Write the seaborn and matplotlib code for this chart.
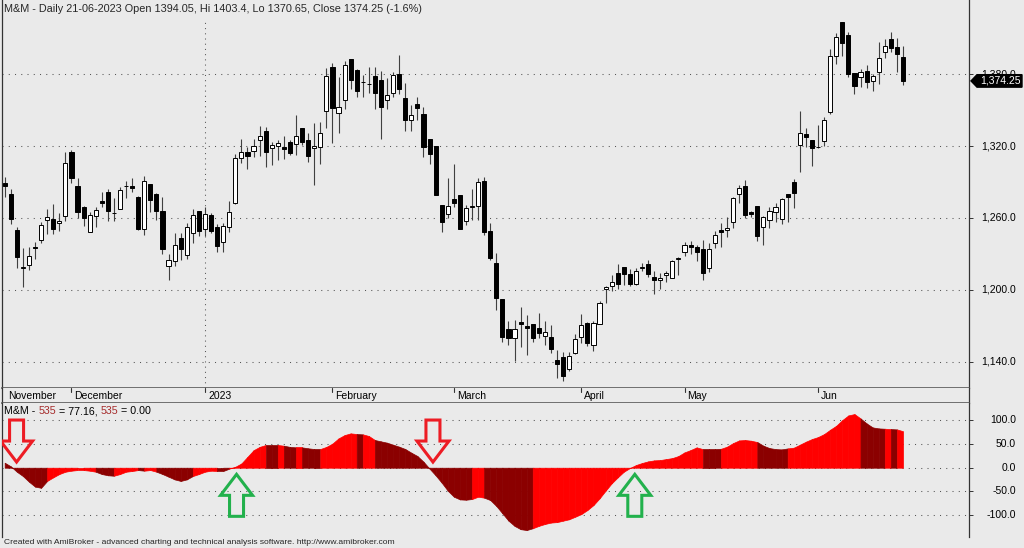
import numpy as np
import pandas as pd
import matplotlib
matplotlib.use("Agg")
import matplotlib.pyplot as plt
import seaborn as sns
from matplotlib import transforms as mtransforms
from matplotlib.patches import Polygon

W, H = 1024, 548
BG = '#EAEAEA'
RED = '#FF0000'
DARK = '#8B0000'

sns.set_theme(style='white', rc={
    'figure.facecolor': BG,
    'axes.facecolor': BG,
    'savefig.facecolor': BG,
    'axes.edgecolor': '#333333',
})
plt.rcParams['font.family'] = ['Liberation Sans', 'DejaVu Sans']

#%% data
nse_holidays = ['2023-01-26', '2023-03-07', '2023-03-30', '2023-04-04',
                '2023-04-07', '2023-04-14', '2023-05-01']

opens = [1289.2, 1280.0, 1250.0, 1218.4, 1220.6, 1235.6, 1241.7, 1258.3, 1259.4, 1255.6,
         1261.7, 1314.7, 1286.9, 1269.4, 1248.1, 1261.7, 1273.9, 1281.7, 1264.5, 1267.8,
         1286.6, 1286.7, 1277.8, 1250.6, 1288.3, 1280.0, 1265.6, 1219.7, 1224.4, 1243.3,
         1229.4, 1247.5, 1265.8, 1250.6, 1262.5, 1252.5, 1240.0, 1252.8, 1272.8, 1309.7,
         1315.3, 1315.8, 1324.7, 1332.8, 1318.6, 1320.0, 1319.2, 1323.6, 1321.4, 1334.7,
         1325.3, 1318.0, 1319.4, 1349.4, 1386.1, 1347.2, 1358.3, 1392.2, 1383.3, 1373.5,
         1371.5, 1378.6, 1375.0, 1358.0, 1363.9, 1380.0, 1359.7, 1341.4, 1354.7, 1347.0,
         1325.5, 1320.0, 1270.5, 1263.3, 1276.1, 1278.9, 1257.8, 1269.2, 1270.3, 1291.1,
         1249.2, 1222.8, 1192.2, 1167.2, 1160.3, 1173.3, 1170.3, 1171.4, 1168.0, 1161.4,
         1160.5, 1141.7, 1144.2, 1134.2, 1147.2, 1161.1, 1172.8, 1154.4, 1171.7, 1200.5,
         1203.3, 1213.9, 1218.9, 1213.0, 1205.0, 1218.5, 1221.7, 1211.1, 1208.3, 1212.5,
         1210.3, 1225.5, 1232.0, 1237.5, 1236.0, 1234.0, 1218.0, 1238.9, 1250.0, 1250.0,
         1256.4, 1280.3, 1286.9, 1265.0, 1270.3, 1252.8, 1258.3, 1265.3, 1259.2, 1280.0,
         1290.3, 1320.8, 1330.0, 1325.0, 1319.5, 1324.2, 1348.6, 1395.0, 1423.0, 1412.5,
         1380.8, 1377.5, 1382.8, 1373.9, 1381.4, 1398.6, 1409.2, 1402.2, 1394.05]

highs = [1294.4, 1284.4, 1252.8, 1234.7, 1235.6, 1239.7, 1256.7, 1267.5, 1271.4, 1264.4,
         1315.3, 1316.7, 1293.1, 1270.0, 1264.7, 1268.9, 1281.7, 1283.9, 1276.4, 1285.6,
         1290.8, 1293.1, 1278.0, 1295.0, 1288.5, 1280.5, 1277.2, 1230.0, 1247.2, 1247.8,
         1255.6, 1267.2, 1266.0, 1269.4, 1264.4, 1254.7, 1255.6, 1273.9, 1313.3, 1325.8,
         1318.9, 1325.8, 1336.7, 1335.5, 1323.0, 1325.0, 1328.3, 1325.0, 1345.6, 1334.8,
         1331.1, 1338.9, 1340.3, 1384.7, 1388.9, 1377.2, 1391.1, 1392.3, 1384.2, 1379.2,
         1385.5, 1386.1, 1382.8, 1376.4, 1382.0, 1395.8, 1372.2, 1354.2, 1361.1, 1352.8,
         1325.6, 1320.2, 1271.0, 1293.3, 1305.0, 1279.0, 1270.5, 1283.9, 1293.0, 1294.4,
         1255.5, 1230.5, 1192.5, 1174.2, 1175.0, 1186.1, 1178.9, 1171.5, 1180.5, 1174.2,
         1170.5, 1150.0, 1148.6, 1148.6, 1163.3, 1179.7, 1173.0, 1174.2, 1190.5, 1203.6,
         1212.5, 1221.4, 1219.0, 1217.2, 1218.0, 1222.2, 1225.0, 1216.1, 1213.9, 1216.1,
         1225.0, 1227.8, 1240.0, 1241.0, 1237.5, 1241.7, 1239.4, 1249.4, 1255.6, 1260.6,
         1277.8, 1287.5, 1291.7, 1265.8, 1270.4, 1261.3, 1269.4, 1272.2, 1277.0, 1280.1,
         1292.5, 1349.4, 1334.7, 1325.1, 1337.5, 1344.2, 1400.8, 1413.9, 1423.1, 1414.7,
         1381.0, 1384.2, 1387.5, 1380.3, 1406.4, 1409.2, 1414.7, 1409.7, 1403.4]

lows = [1277.2, 1255.0, 1218.0, 1202.2, 1216.4, 1225.8, 1238.9, 1246.4, 1246.7, 1249.2,
        1257.8, 1288.9, 1259.7, 1253.3, 1248.0, 1252.8, 1269.4, 1257.2, 1257.5, 1267.2,
        1276.4, 1282.0, 1250.0, 1245.6, 1265.3, 1258.3, 1230.0, 1208.3, 1220.3, 1225.0,
        1225.8, 1238.9, 1245.0, 1245.0, 1247.8, 1231.4, 1231.4, 1248.6, 1272.0, 1305.5,
        1300.5, 1310.6, 1311.7, 1302.8, 1304.4, 1308.3, 1309.0, 1312.2, 1312.5, 1320.8,
        1306.7, 1287.2, 1305.0, 1335.3, 1322.8, 1330.6, 1351.1, 1367.2, 1361.1, 1360.6,
        1364.0, 1350.8, 1325.5, 1350.5, 1360.5, 1363.0, 1332.2, 1332.8, 1341.7, 1311.1,
        1305.0, 1279.0, 1248.6, 1259.7, 1269.4, 1250.5, 1254.0, 1258.3, 1258.3, 1245.8,
        1225.0, 1183.3, 1157.0, 1154.2, 1140.5, 1152.8, 1145.8, 1157.0, 1159.7, 1154.2,
        1147.8, 1126.4, 1124.4, 1132.8, 1146.7, 1155.5, 1153.3, 1149.2, 1171.4, 1188.9,
        1199.4, 1200.5, 1204.2, 1203.3, 1204.4, 1215.8, 1211.1, 1196.7, 1200.5, 1207.0,
        1210.0, 1212.5, 1228.0, 1230.0, 1224.0, 1208.0, 1215.0, 1234.7, 1235.5, 1244.4,
        1252.0, 1272.8, 1259.7, 1260.6, 1240.8, 1237.5, 1251.4, 1256.9, 1254.7, 1256.9,
        1268.1, 1298.6, 1319.4, 1303.6, 1318.3, 1320.0, 1346.4, 1388.0, 1395.3, 1377.2,
        1363.0, 1369.4, 1368.6, 1365.8, 1371.4, 1393.6, 1398.0, 1381.4, 1370.65]

closes = [1286.7, 1259.4, 1227.2, 1218.8, 1228.3, 1234.6, 1253.9, 1260.6, 1250.6, 1257.5,
          1305.6, 1293.6, 1264.7, 1259.7, 1262.8, 1266.7, 1272.8, 1265.6, 1264.0, 1283.1,
          1287.0, 1285.0, 1251.1, 1290.8, 1275.3, 1265.6, 1233.9, 1224.7, 1237.2, 1234.2,
          1252.2, 1262.8, 1249.4, 1263.1, 1249.2, 1236.4, 1253.1, 1264.7, 1310.0, 1314.7,
          1312.0, 1320.0, 1328.3, 1315.0, 1320.5, 1322.2, 1317.2, 1313.9, 1328.0, 1323.3,
          1311.4, 1320.0, 1331.1, 1378.3, 1351.7, 1352.2, 1387.5, 1375.0, 1365.8, 1373.0,
          1371.8, 1364.4, 1352.8, 1362.5, 1379.2, 1367.8, 1341.4, 1345.8, 1351.4, 1319.4,
          1313.6, 1279.2, 1257.0, 1269.7, 1272.2, 1250.8, 1268.6, 1270.3, 1289.7, 1248.6,
          1226.4, 1193.6, 1161.1, 1160.3, 1167.2, 1171.7, 1168.0, 1160.3, 1163.9, 1165.3,
          1150.5, 1138.0, 1128.3, 1145.0, 1158.9, 1170.8, 1156.1, 1172.2, 1189.4, 1202.2,
          1206.9, 1204.7, 1213.1, 1204.7, 1215.5, 1218.6, 1213.3, 1208.0, 1210.3, 1213.9,
          1224.4, 1227.0, 1237.5, 1236.0, 1232.0, 1214.0, 1234.0, 1245.8, 1248.0, 1252.0,
          1276.9, 1285.3, 1262.5, 1263.3, 1245.3, 1261.1, 1265.8, 1268.9, 1275.8, 1277.2,
          1281.1, 1330.6, 1327.8, 1318.6, 1319.0, 1341.4, 1395.0, 1410.6, 1406.1, 1380.3,
          1370.3, 1381.4, 1373.0, 1378.6, 1393.1, 1403.3, 1402.0, 1396.4, 1374.25]

osc = [10.6, 3.0, -8.5, -17.6, -29.6, -40.0, -42.5, -28.0, -20.4, -13.4,
       -8.5, -6.3, -5.0, -5.0, -6.3, -8.5, -13.4, -16.0, -17.0, -13.4,
       -8.5, -7.0, -5.0, -6.3, -5.0, -8.5, -13.4, -19.0, -24.7, -28.0,
       -24.7, -17.6, -13.4, -8.5, -6.3, -7.0, -7.0, -2.0, 2.0, 9.0,
       23.0, 37.0, 44.0, 48.0, 48.0, 48.0, 46.5, 44.0, 43.0, 43.0,
       41.0, 39.5, 39.5, 44.0, 51.0, 62.0, 69.0, 72.6, 71.2, 70.5,
       67.0, 58.5, 55.7, 52.9, 48.6, 44.4, 39.5, 31.7, 24.7, 12.7,
       -2.1, -16.2, -31.7, -48.6, -61.3, -67.0, -67.7, -66.2, -61.3, -63.4,
       -68.4, -81.0, -96.5, -112.0, -123.0, -130.0, -131.8, -128.0, -123.0, -119.0,
       -116.0, -115.0, -112.0, -109.0, -103.6, -98.0, -89.5, -79.0, -64.8, -48.6,
       -33.0, -20.4, -8.5, -0.7, 5.6, 9.9, 13.4, 15.5, 16.2, 18.3,
       20.4, 24.7, 32.4, 37.3, 43.0, 39.4, 39.4, 39.4, 40.0, 44.4,
       52.0, 57.7, 58.5, 57.0, 54.2, 46.5, 41.5, 39.4, 38.7, 40.8,
       42.3, 48.6, 55.0, 60.6, 64.8, 71.1, 80.3, 88.7, 100.7, 110.6,
       113.4, 104.2, 93.7, 85.2, 83.1, 82.4, 81.7, 81.0, 77.16]

# 1 = dark red segment, 0 = bright red segment
osc_dark = [1, 1, 1, 1, 1, 1, 1, 0, 0, 0, 0, 0, 0, 0, 0, 1, 1, 1, 0, 0,
            0, 0, 1, 0, 0, 1, 1, 1, 1, 1, 1, 0, 0, 0, 0, 1, 1, 0, 0, 0,
            0, 0, 0, 1, 1, 0, 1, 1, 0, 1, 1, 1, 0, 0, 0, 0, 0, 0, 1, 0,
            0, 1, 1, 1, 1, 1, 1, 1, 1, 1, 1, 1, 1, 1, 1, 1, 1, 0, 0, 1,
            1, 1, 1, 1, 1, 1, 1, 0, 0, 0, 0, 0, 0, 0, 0, 0, 0, 0, 0, 0,
            0, 0, 0, 0, 0, 0, 0, 0, 0, 0, 0, 0, 0, 0, 0, 1, 1, 1, 0, 0,
            0, 0, 0, 0, 1, 1, 1, 1, 1, 0, 0, 0, 0, 0, 0, 0, 0, 0, 0, 0,
            0, 1, 1, 1, 1, 0, 1, 0, 0]

month_labels = ['November', 'December', '2023', 'February', 'March', 'April', 'May', 'Jun']
price_ticks = [1140, 1200, 1260, 1320, 1380]
osc_ticks = [100, 50, 0, -50, -100]

title_text = 'M&M - Daily 21-06-2023 Open 1394.05, Hi 1403.4, Lo 1370.65, Close 1374.25 (-1.6%)'
osc_title = [('M&M - ', 'black'), ('535', '#A52A2A'), (' = 77.16, ', 'black'),
             ('535', '#A52A2A'), (' = 0.00', 'black')]
footer = ('Created with AmiBroker - advanced charting and technical analysis software. '
          'http://www.amibroker.com')

dates = pd.bdate_range('2022-11-16', '2023-06-21')
dates = dates[~dates.isin(pd.to_datetime(nse_holidays))]

df = pd.DataFrame({'date': dates, 'open': opens, 'high': highs, 'low': lows,
                   'close': closes, 'osc': osc, 'dark': osc_dark})
df['x'] = np.arange(len(df))
month_start = df.groupby(df['date'].dt.to_period('M'))['x'].min().to_numpy()

#%% layout
fig = plt.figure(figsize=(W / 100, H / 100), dpi=100)
x0, x1 = 2 / W, 969 / W
ax = fig.add_axes([x0, 1 - 388 / H, x1 - x0, 388 / H])
ax_d = fig.add_axes([x0, 1 - 403 / H, x1 - x0, 15 / H], sharex=ax)
ax2 = fig.add_axes([x0, 1 - 537 / H, x1 - x0, 134 / H], sharex=ax)

xlim = (-0.44, 158.87)
ax.set_xlim(*xlim)
ax.set_ylim(1118.3, 1441.7)
ax2.set_ylim(-146.5, 136.8)
ax_d.set_ylim(0, 1)

for a in (ax, ax_d, ax2):
    a.set_facecolor(BG)
    a.tick_params(axis='x', which='both', bottom=False, labelbottom=False)
    for s in a.spines.values():
        s.set_color('#333333')
        s.set_linewidth(0.9)

ax.spines['top'].set_visible(False)
ax.spines['bottom'].set_color('#5a5a5a')
ax.spines['bottom'].set_linewidth(1.2)
ax_d.spines['bottom'].set_color('#5a5a5a')
ax_d.spines['bottom'].set_linewidth(1.2)
ax_d.spines['top'].set_visible(False)
ax2.spines['top'].set_visible(False)
ax2.spines['bottom'].set_visible(False)
ax_d.set_yticks([])

grid_style = dict(color='#555555', linestyle=(0, (1, 5)), linewidth=0.75)

# y ticks on the right, labels drawn as text right-aligned
for a, ticks in ((ax, price_ticks), (ax2, osc_ticks)):
    a.yaxis.tick_right()
    a.set_yticks(ticks)
    a.set_yticklabels([])
    a.tick_params(axis='y', direction='out', length=3, width=0.7, color='#333333')
    for t in ticks:
        a.axhline(t, zorder=0.5, **grid_style)

lab_tr = mtransforms.blended_transform_factory(fig.transFigure, ax.transData)
for t in price_ticks:
    ax.text(1016 / W, t, f'{t:,.1f}', transform=lab_tr, ha='right', va='center',
            fontsize=7.5, color='black', clip_on=False, zorder=3)
lab_tr2 = mtransforms.blended_transform_factory(fig.transFigure, ax2.transData)
for t in osc_ticks:
    ax2.text(1016 / W, t, f'{t:.1f}', transform=lab_tr2, ha='right', va='center',
             fontsize=7.5, color='black', clip_on=False)

# year separator
ax.axvline(month_start[2], ymin=0, ymax=0.945, zorder=0.5,
           color='#555555', linestyle=(0, (1, 4)), linewidth=0.75)

#%% candles
up = (df['close'] >= df['open']).to_numpy()
body_lo = np.minimum(df['open'], df['close']).to_numpy()
body_h = np.maximum(np.abs(df['close'] - df['open']).to_numpy(), 0.35)
ax.vlines(df['x'], df['low'], df['high'], color='#404040', linewidth=0.8, zorder=2)
ax.bar(df['x'][up], body_h[up], bottom=body_lo[up], width=0.68,
       color='white', edgecolor='black', linewidth=0.7, zorder=3)
ax.bar(df['x'][~up], body_h[~up], bottom=body_lo[~up], width=0.68,
       color='black', edgecolor='black', linewidth=0.7, zorder=3)

# last price tag
last = df['close'].iloc[-1]
ph = 5.2
tag = Polygon([(971 / W, last), (977 / W, last + ph), (1022 / W, last + ph),
               (1022 / W, last - ph), (977 / W, last - ph)], closed=True,
              transform=lab_tr, facecolor='black', edgecolor='black',
              clip_on=False, zorder=10)
ax.add_patch(tag)
ax.text(1021 / W, last, f'{last:,.2f}', transform=lab_tr, ha='right', va='center',
        fontsize=7.5, color='white', clip_on=False, zorder=11)

#%% date strip
tick_off = mtransforms.offset_copy(ax_d.transData, fig=fig, x=3, y=0, units='dots')
for k, (pos, lab) in enumerate(zip(month_start, month_labels)):
    if k > 0:
        ax_d.plot([pos, pos], [1, 0.72], color='#333333', lw=0.8)
    ax_d.text(pos, 0.45, lab, transform=tick_off, ha='left', va='center',
              fontsize=7.5, color='black')

#%% oscillator
xs = df['x'].to_numpy()
v = df['osc'].to_numpy()
dark = df['dark'].to_numpy()
for i in range(len(xs) - 1):
    c = DARK if dark[i] else RED
    ax2.fill_between(xs[i:i + 2], 0, v[i:i + 2], color=c, edgecolor=c,
                     linewidth=0.5, interpolate=True, zorder=2)

# signal arrows at zero crossings
bx = (xlim[1] - xlim[0]) / (ax2.get_position().width * W)
ylo, yhi = ax2.get_ylim()
by = (yhi - ylo) / (ax2.get_position().height * H)
hw, sw, hl, tl = 16 * bx, 7 * bx, 21 * by, 42 * by
cross = np.where(np.sign(v[:-1]) != np.sign(v[1:]))[0]
for i in cross:
    xc = i + v[i] / (v[i] - v[i + 1]) + 0.7
    if v[i] > 0:
        tip, d, col = 12, 1, '#ED1C24'
    else:
        tip, d, col = -14, -1, '#22B14C'
    pts = [(xc, tip), (xc - hw, tip + d * hl), (xc - sw, tip + d * hl),
           (xc - sw, tip + d * tl), (xc + sw, tip + d * tl), (xc + sw, tip + d * hl),
           (xc + hw, tip + d * hl)]
    ax2.add_patch(Polygon(pts, closed=True, facecolor='none', edgecolor=col,
                          linewidth=2.2, joinstyle='miter', zorder=5))

#%% texts
fig.text(4 / W, 1 - 9 / H, title_text, fontsize=7.8, ha='left', va='center')

renderer = fig.canvas.get_renderer()


def text_width(s, size):
    t = fig.text(0, 0, s + '|', fontsize=size)
    w1 = t.get_window_extent(renderer=renderer).width
    t.remove()
    t = fig.text(0, 0, '|', fontsize=size)
    w2 = t.get_window_extent(renderer=renderer).width
    t.remove()
    return w1 - w2


prefix = ''
for s, c in osc_title:
    xpx = 4 + text_width(prefix, 7.7) if prefix else 4
    fig.text(xpx / W, 1 - 411 / H, s, fontsize=7.7, color=c, ha='left', va='center')
    prefix += s

fig.text(4 / W, 1 - 542 / H, footer, fontsize=6.1, ha='left', va='center')

fig.savefig('out.png', dpi=100, facecolor=BG)
